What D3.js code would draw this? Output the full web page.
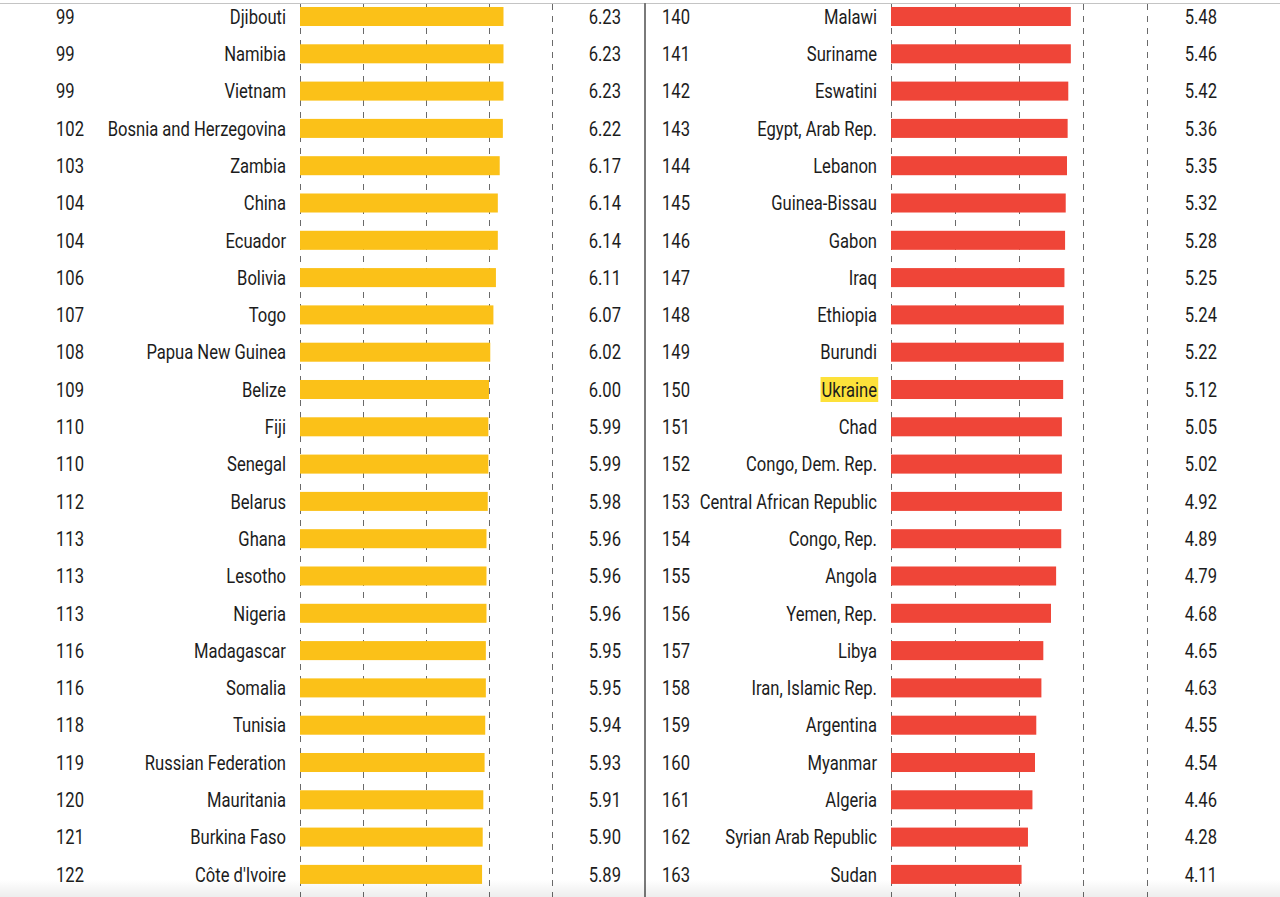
<!DOCTYPE html>
<html>
<head>
<meta charset="utf-8">
<script src="https://cdn.jsdelivr.net/npm/d3@7"></script>
<style>
  html, body { margin: 0; padding: 0; background: #fff; }
  svg { display: block; }
  text { font-family: Roboto, "Noto Sans", sans-serif; font-size: 20px; fill: #1c1c1c; }
</style>
</head>
<body>
<div id="chart"></div>
<script>
// left block (yellow)
var leftRanks = [99, 99, 99, 102, 103, 104, 104, 106, 107, 108, 109, 110, 110, 112, 113, 113, 113, 116, 116, 118, 119, 120, 121, 122];
var leftCountries = ["Djibouti", "Namibia", "Vietnam", "Bosnia and Herzegovina", "Zambia", "China", "Ecuador", "Bolivia",
    "Togo", "Papua New Guinea", "Belize", "Fiji", "Senegal", "Belarus", "Ghana", "Lesotho", "Nigeria", "Madagascar",
    "Somalia", "Tunisia", "Russian Federation", "Mauritania", "Burkina Faso", "Côte d'Ivoire"];
var leftScores = [6.23, 6.23, 6.23, 6.22, 6.17, 6.14, 6.14, 6.11, 6.07, 6.02, 6.00, 5.99, 5.99, 5.98, 5.96, 5.96, 5.96,
    5.95, 5.95, 5.94, 5.93, 5.91, 5.90, 5.89];

// right block (red)
var rightRanks = [140, 141, 142, 143, 144, 145, 146, 147, 148, 149, 150, 151, 152, 153, 154, 155, 156, 157, 158, 159, 160, 161, 162, 163];
var rightCountries = ["Malawi", "Suriname", "Eswatini", "Egypt, Arab Rep.", "Lebanon", "Guinea-Bissau", "Gabon", "Iraq",
    "Ethiopia", "Burundi", "Ukraine", "Chad", "Congo, Dem. Rep.", "Central African Republic", "Congo, Rep.", "Angola",
    "Yemen, Rep.", "Libya", "Iran, Islamic Rep.", "Argentina", "Myanmar", "Algeria", "Syrian Arab Republic", "Sudan"];
var rightScores = [5.48, 5.46, 5.42, 5.36, 5.35, 5.32, 5.28, 5.25, 5.24, 5.22, 5.12, 5.05, 5.02, 4.92, 4.89, 4.79, 4.68,
    4.65, 4.63, 4.55, 4.54, 4.46, 4.28, 4.11];
// the red bars don't follow the printed score, lengths
var rightBars = [5.81, 5.81, 5.77, 5.76, 5.75, 5.73, 5.72, 5.71, 5.70, 5.70, 5.69, 5.67, 5.67, 5.67, 5.66, 5.58, 5.50,
    5.38, 5.35, 5.27, 5.25, 5.21, 5.14, 5.04];

var gridTicks = [3, 4, 5, 6, 7];
var highlight = "Ukraine";

var width = 1280, height = 897;
var sx = 0.83; // squeeze Roboto to look condensed

var svg = d3.select("#chart").append("svg")
    .attr("width", width)
    .attr("height", height);

var y = d3.scaleBand()
    .domain(d3.range(24))
    .range([-2.15, -2.15 + 24 * 37.3])
    .paddingInner(0.49)
    .paddingOuter(0.245);

var panels = [
    {ranks: leftRanks, names: leftCountries, scores: leftScores, bars: leftScores, color: "#fbc118",
        rankX: 56, nameX: 286, x0: 300, x1: 552, valueX: 621},
    {ranks: rightRanks, names: rightCountries, scores: rightScores, bars: rightBars, color: "#ef4538",
        rankX: 662, nameX: 877, x0: 891, x1: 1147, valueX: 1217}
];

// top rule + separator
svg.append("line")
    .attr("x1", 0).attr("x2", width)
    .attr("y1", 3.5).attr("y2", 3.5)
    .attr("stroke", "#c4c4c4").attr("stroke-width", 1);

svg.append("line")
    .attr("x1", 645).attr("x2", 645)
    .attr("y1", 3).attr("y2", height)
    .attr("stroke", "#7a7a7a").attr("stroke-width", 2);

panels.forEach(function(p) {
    var x = d3.scaleLinear().domain([3, 7]).range([p.x0, p.x1]);
    var rows = d3.range(p.ranks.length);
    var g = svg.append("g");

    // dashed grid behind bars
    g.selectAll("line.grid")
        .data(gridTicks)
        .enter().append("line")
        .attr("class", "grid")
        .attr("x1", function(d) { return x(d) + 0.5; })
        .attr("x2", function(d) { return x(d) + 0.5; })
        .attr("y1", 4).attr("y2", height)
        .attr("stroke", "#6a6a6a")
        .attr("stroke-width", 1)
        .attr("stroke-dasharray", "6,6");

    g.selectAll("rect.bar")
        .data(rows)
        .enter().append("rect")
        .attr("class", "bar")
        .attr("x", x(3))
        .attr("y", function(i) { return y(i); })
        .attr("width", function(i) { return x(p.bars[i]) - x(3); })
        .attr("height", y.bandwidth())
        .attr("fill", p.color);

    function label(val, xx, anchor) {
        return g.selectAll(null)
            .data(rows)
            .enter().append("text")
            .attr("transform", function(i) {
                return "translate(" + xx + "," + (y(i) + y.bandwidth() / 2) + ") scale(" + sx + ",1)";
            })
            .attr("dy", "0.36em")
            .attr("text-anchor", anchor)
            .text(val);
    }

    label(function(i) { return p.ranks[i]; }, p.rankX, "start");
    var names = label(function(i) { return p.names[i]; }, p.nameX, "end");
    label(function(i) { return p.scores[i].toFixed(2); }, p.valueX, "end");

    // yellow marker behind the highlighted country
    names.filter(function(i) { return p.names[i] === highlight; }).each(function(i) {
        var bb = this.getBBox();
        var cy = y(i) + y.bandwidth() / 2;
        g.insert("rect", "text")
            .attr("x", p.nameX + bb.x * sx - 1)
            .attr("y", cy - 12.5)
            .attr("width", bb.width * sx + 2)
            .attr("height", 25)
            .attr("fill", "#fde13a");
    });
});

// faint scroll shadow at the bottom edge
var grad = svg.append("defs").append("linearGradient")
    .attr("id", "shade").attr("x1", 0).attr("x2", 0).attr("y1", 0).attr("y2", 1);
grad.append("stop").attr("offset", "0%").attr("stop-color", "#000").attr("stop-opacity", 0);
grad.append("stop").attr("offset", "100%").attr("stop-color", "#000").attr("stop-opacity", 0.07);
svg.append("rect")
    .attr("x", 0).attr("y", 880).attr("width", width).attr("height", 17)
    .attr("fill", "url(#shade)");
</script>
</body>
</html>
